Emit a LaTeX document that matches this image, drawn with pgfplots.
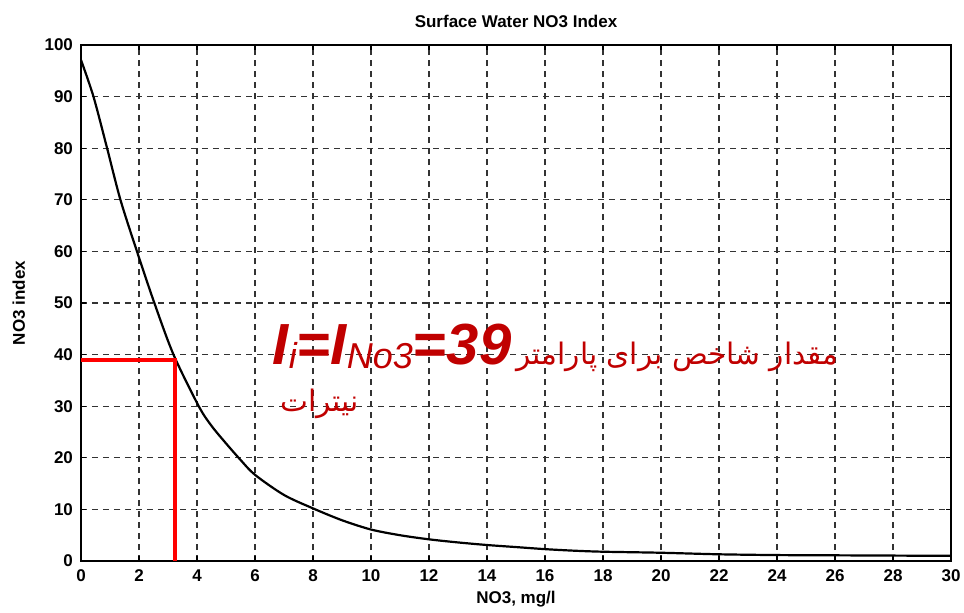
\documentclass[border=0pt]{standalone}
\usepackage{pgfplots}
\pgfplotsset{compat=1.18}
\usepackage{fontspec}
\setmainfont{Liberation Sans}
\newfontfamily\arabicfont[Script=Arabic]{DejaVu Sans}
\TeXXeTstate=1
\definecolor{annred}{RGB}{192,0,0}
\begin{document}
\begin{tikzpicture}
\begin{axis}[
  name=ax,
  scale only axis,
  width=435pt, height=258pt,
  xmin=0, xmax=30, ymin=0, ymax=100,
  xtick={0,2,...,30}, ytick={0,10,...,100},
  /pgf/number format/assume math mode=true,
  ticklabel style={font=\bfseries\fontsize{8.5}{10}\selectfont},
  xticklabel style={yshift=-1pt},
  yticklabel style={xshift=-0.5pt},
  tick align=inside,
  tick pos=both,
  major tick length=2.5pt,
  tick style={black, line width=0.6pt},
  axis line style={line width=1pt},
  grid=major,
  major grid style={black!80, line width=0.65pt, dash pattern=on 3pt off 2.5pt},
  title={Surface Water NO3 Index},
  title style={font=\bfseries\fontsize{8.5}{10}\selectfont, anchor=base, at={(0.5,1)}, yshift=3pt},
  xlabel={NO3, mg/l},
  xlabel style={font=\bfseries\fontsize{8.5}{10}\selectfont, anchor=base, at={(0.5,0)}, yshift=-21pt},
  ylabel={NO3 index},
  ylabel style={font=\bfseries\fontsize{8.5}{10}\selectfont, anchor=base, at={(0,0.5)}, yshift=28pt},
]
\addplot[black, line width=1.1pt, smooth, tension=0.5] coordinates {
(0,97.1) (0.43,90) (0.9,80) (1.36,70) (1.93,60) (2.53,50) (3.19,40) (4.06,30)
(4.5,26.2) (5,22.8) (5.5,19.6) (6,16.7) (7,12.8) (8,10.2) (9,7.9) (10,6.1)
(11,5.0) (12,4.2) (13,3.6) (14,3.1) (15,2.7) (16,2.3) (17,2.0) (18,1.8)
(20,1.6) (22,1.3) (24,1.15) (26,1.1) (28,1.05) (30,1.0)
};
\addplot[red, line width=2pt] coordinates {(0,39) (3.25,39) (3.25,0)};
\node[anchor=base west, inner sep=0pt, text=annred] at (axis cs:6.6,38)
  {\fontsize{29}{30}\selectfont\bfseries\itshape I\raisebox{-2pt}{\fontsize{18}{18}\selectfont\mdseries i}=I\raisebox{-2pt}{\fontsize{18}{18}\selectfont\mdseries No3}=39};
\node[anchor=base west, inner sep=0pt, text=annred] at (axis cs:15.0,38)
  {\arabicfont\fontsize{14.8}{16}\selectfont\beginR مقدار شاخص برای پارامتر\endR};
\node[anchor=base east, inner sep=0pt, text=annred] at (axis cs:9.6,29)
  {\arabicfont\fontsize{14.8}{16}\selectfont\beginR نیترات\endR};
\end{axis}
\pgfresetboundingbox
\path[use as bounding box] ([xshift=-40.5pt,yshift=-25.5pt]ax.south west) rectangle ([xshift=6.5pt,yshift=22.5pt]ax.north east);
\end{tikzpicture}
\end{document}
